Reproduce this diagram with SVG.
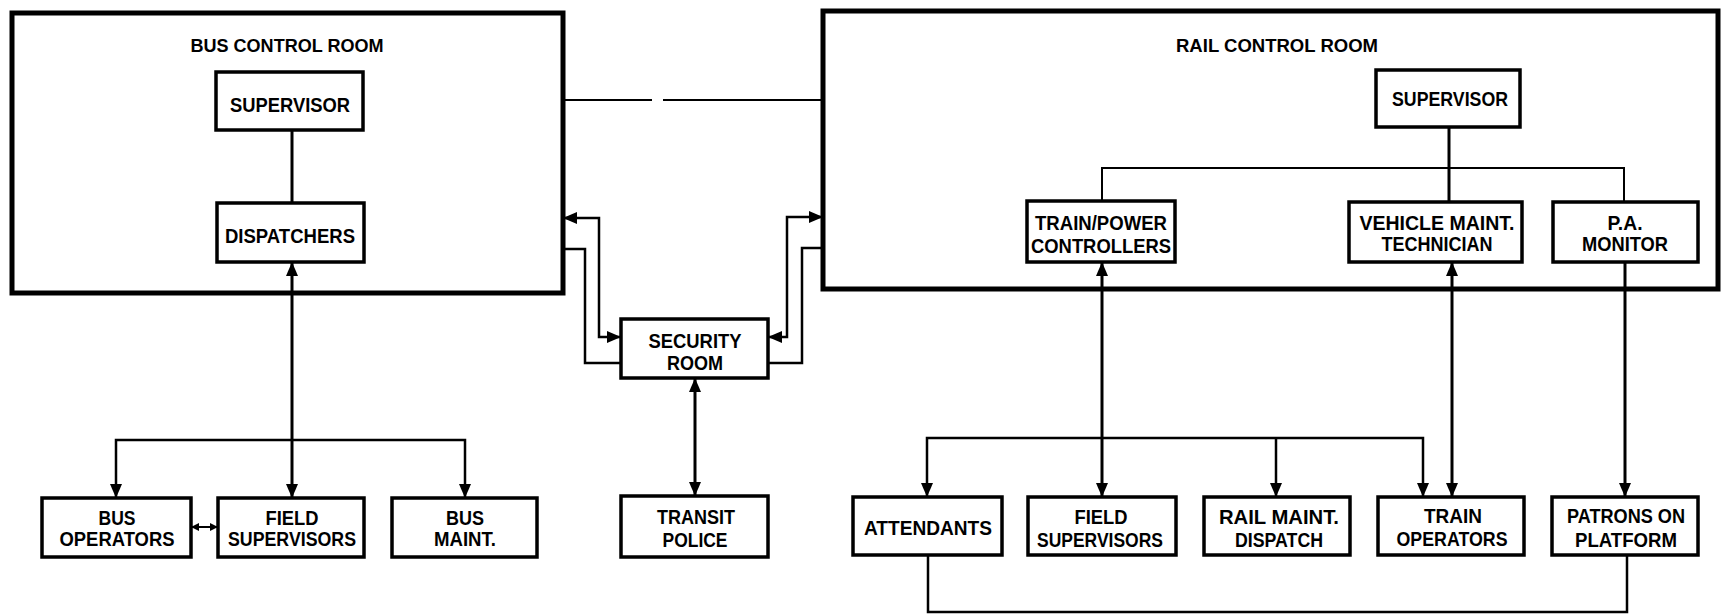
<svg xmlns="http://www.w3.org/2000/svg" width="1721" height="614" viewBox="0 0 1721 614">
<style>
.room{fill:none;stroke:#000;stroke-width:5}
.box{fill:#fff;stroke:#000;stroke-width:3.5}
.c{fill:none;stroke:#000;stroke-width:3}
.t{fill:none;stroke:#000;stroke-width:2.5}
.thin{fill:none;stroke:#000;stroke-width:2}
text{font-family:"Liberation Sans",Arial,sans-serif;font-weight:bold;font-size:20px;text-anchor:middle;fill:#000}
.title{font-size:19px}
</style>
<defs>
<marker id="ah" viewBox="0 0 14 12" refX="14" refY="6" markerWidth="14" markerHeight="12" markerUnits="userSpaceOnUse" orient="auto-start-reverse">
<path d="M0,0 L14,6 L0,12 z" fill="#000"/>
</marker>
<marker id="ahs" viewBox="0 0 8 8" refX="8" refY="4" markerWidth="8" markerHeight="8" markerUnits="userSpaceOnUse" orient="auto-start-reverse">
<path d="M0,0 L8,4 L0,8 z" fill="#000"/>
</marker>
</defs>

<g id="connectors">
<line class="c" x1="292" y1="130" x2="292" y2="203"/>
<line class="c" x1="292" y1="262" x2="292" y2="498" marker-start="url(#ah)" marker-end="url(#ah)"/>
<path class="t" d="M116,498 V440 H465 V498" marker-start="url(#ah)" marker-end="url(#ah)"/>
<line class="thin" x1="191" y1="527" x2="218" y2="527" marker-start="url(#ahs)" marker-end="url(#ahs)"/>
<line class="thin" x1="563" y1="100" x2="652" y2="100"/>
<line class="thin" x1="663" y1="100" x2="823" y2="100"/>
<path class="t" d="M563,218 H599 V337 H621" marker-start="url(#ah)" marker-end="url(#ah)"/>
<path class="t" d="M563,249 H585 V363 H621"/>
<path class="t" d="M823,217 H787 V337 H768" marker-start="url(#ah)" marker-end="url(#ah)"/>
<path class="t" d="M823,248 H802 V363 H768"/>
<line class="c" x1="695" y1="378" x2="695" y2="496" marker-start="url(#ah)" marker-end="url(#ah)"/>
<line class="c" x1="1449" y1="127" x2="1449" y2="201"/>
<path class="thin" d="M1102,201 V168 H1624 V202"/>
<line class="c" x1="1102" y1="262" x2="1102" y2="497" marker-start="url(#ah)" marker-end="url(#ah)"/>
<line class="c" x1="1452" y1="262" x2="1452" y2="497" marker-start="url(#ah)" marker-end="url(#ah)"/>
<line class="c" x1="1625" y1="262" x2="1625" y2="497" marker-end="url(#ah)"/>
<path class="t" d="M927,497 V438 H1423 V497" marker-start="url(#ah)" marker-end="url(#ah)"/>
<line class="t" x1="1276" y1="438" x2="1276" y2="497" marker-end="url(#ah)"/>
<path class="t" d="M928,555 V612 H1627 V555"/>
</g>

<g id="bus-control-room">
<rect class="room" x="12" y="13" width="551" height="280"/>
<text class="title" x="287" y="52" textLength="193" lengthAdjust="spacingAndGlyphs">BUS CONTROL ROOM</text>
</g>
<g id="rail-control-room">
<rect class="room" x="823" y="11" width="895" height="278"/>
<text class="title" x="1277" y="52" textLength="202" lengthAdjust="spacingAndGlyphs">RAIL CONTROL ROOM</text>
</g>

<g id="bus-supervisor">
<rect class="box" x="216" y="72" width="147" height="58"/>
<text x="290" y="112" textLength="120" lengthAdjust="spacingAndGlyphs">SUPERVISOR</text>
</g>
<g id="dispatchers">
<rect class="box" x="217" y="203" width="147" height="59"/>
<text x="290" y="243" textLength="130" lengthAdjust="spacingAndGlyphs">DISPATCHERS</text>
</g>
<g id="bus-operators">
<rect class="box" x="42" y="498" width="149" height="59"/>
<text x="117" y="525" textLength="37" lengthAdjust="spacingAndGlyphs">BUS</text>
<text x="117" y="546" textLength="115" lengthAdjust="spacingAndGlyphs">OPERATORS</text>
</g>
<g id="bus-field-supervisors">
<rect class="box" x="218" y="498" width="146" height="59"/>
<text x="292" y="525" textLength="53" lengthAdjust="spacingAndGlyphs">FIELD</text>
<text x="292" y="546" textLength="128" lengthAdjust="spacingAndGlyphs">SUPERVISORS</text>
</g>
<g id="bus-maint">
<rect class="box" x="392" y="498" width="145" height="59"/>
<text x="465" y="525" textLength="38" lengthAdjust="spacingAndGlyphs">BUS</text>
<text x="465" y="546" textLength="62" lengthAdjust="spacingAndGlyphs">MAINT.</text>
</g>
<g id="security-room">
<rect class="box" x="621" y="319" width="147" height="59"/>
<text x="695" y="348" textLength="93" lengthAdjust="spacingAndGlyphs">SECURITY</text>
<text x="695" y="370" textLength="56" lengthAdjust="spacingAndGlyphs">ROOM</text>
</g>
<g id="transit-police">
<rect class="box" x="621" y="496" width="147" height="61"/>
<text x="696" y="524" textLength="78" lengthAdjust="spacingAndGlyphs">TRANSIT</text>
<text x="695" y="547" textLength="65" lengthAdjust="spacingAndGlyphs">POLICE</text>
</g>
<g id="rail-supervisor">
<rect class="box" x="1376" y="70" width="144" height="57"/>
<text x="1450" y="106" textLength="116" lengthAdjust="spacingAndGlyphs">SUPERVISOR</text>
</g>
<g id="train-power-controllers">
<rect class="box" x="1027" y="201" width="148" height="61"/>
<text x="1101" y="230" textLength="132" lengthAdjust="spacingAndGlyphs">TRAIN/POWER</text>
<text x="1101" y="253" textLength="140" lengthAdjust="spacingAndGlyphs">CONTROLLERS</text>
</g>
<g id="vehicle-maint-technician">
<rect class="box" x="1349" y="202" width="173" height="60"/>
<text x="1437" y="230" textLength="155" lengthAdjust="spacingAndGlyphs">VEHICLE MAINT.</text>
<text x="1437" y="251" textLength="111" lengthAdjust="spacingAndGlyphs">TECHNICIAN</text>
</g>
<g id="pa-monitor">
<rect class="box" x="1553" y="202" width="145" height="60"/>
<text x="1625" y="230" textLength="35" lengthAdjust="spacingAndGlyphs">P.A.</text>
<text x="1625" y="251" textLength="86" lengthAdjust="spacingAndGlyphs">MONITOR</text>
</g>
<g id="attendants">
<rect class="box" x="853" y="497" width="149" height="58"/>
<text x="928" y="535" textLength="128" lengthAdjust="spacingAndGlyphs">ATTENDANTS</text>
</g>
<g id="rail-field-supervisors">
<rect class="box" x="1028" y="497" width="148" height="58"/>
<text x="1101" y="524" textLength="53" lengthAdjust="spacingAndGlyphs">FIELD</text>
<text x="1100" y="547" textLength="126" lengthAdjust="spacingAndGlyphs">SUPERVISORS</text>
</g>
<g id="rail-maint-dispatch">
<rect class="box" x="1204" y="497" width="146" height="58"/>
<text x="1279" y="524" textLength="120" lengthAdjust="spacingAndGlyphs">RAIL MAINT.</text>
<text x="1279" y="547" textLength="88" lengthAdjust="spacingAndGlyphs">DISPATCH</text>
</g>
<g id="train-operators">
<rect class="box" x="1378" y="497" width="146" height="58"/>
<text x="1453" y="523" textLength="58" lengthAdjust="spacingAndGlyphs">TRAIN</text>
<text x="1452" y="546" textLength="111" lengthAdjust="spacingAndGlyphs">OPERATORS</text>
</g>
<g id="patrons-on-platform">
<rect class="box" x="1552" y="497" width="146" height="58"/>
<text x="1626" y="523" textLength="118" lengthAdjust="spacingAndGlyphs">PATRONS ON</text>
<text x="1626" y="547" textLength="102" lengthAdjust="spacingAndGlyphs">PLATFORM</text>
</g>
</svg>
